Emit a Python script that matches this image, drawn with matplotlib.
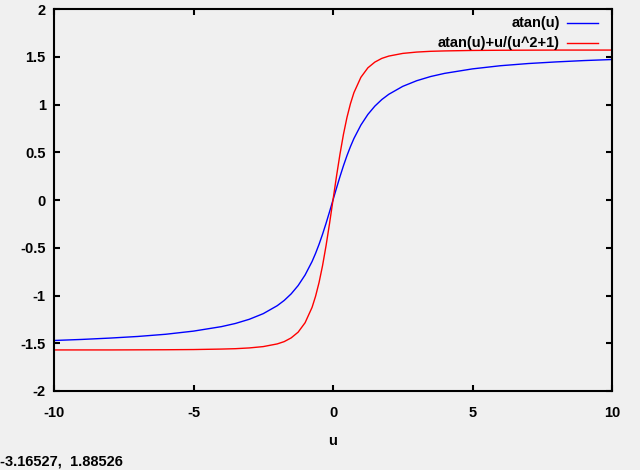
import matplotlib
matplotlib.use("Agg")
import matplotlib.pyplot as plt

# values
u = [-10, -9, -8, -7, -6, -5, -4, -3.5, -3, -2.5, -2, -1.75, -1.5, -1.25, -1,
     -0.75, -0.625, -0.5, -0.375, -0.25, -0.125, 0,
     0.125, 0.25, 0.375, 0.5, 0.625, 0.75, 1, 1.25, 1.5, 1.75, 2, 2.5, 3,
     3.5, 4, 5, 6, 7, 8, 9, 10]
atan_u = [-1.471, -1.460, -1.446, -1.429, -1.406, -1.373, -1.326, -1.293,
          -1.249, -1.190, -1.107, -1.052, -0.983, -0.896, -0.785,
          -0.644, -0.559, -0.464, -0.359, -0.245, -0.124, 0.0,
          0.124, 0.245, 0.359, 0.464, 0.559, 0.644, 0.785, 0.896, 0.983,
          1.052, 1.107, 1.190, 1.249, 1.293, 1.326, 1.373, 1.406, 1.429,
          1.446, 1.460, 1.471]
atan_plus = [-1.570, -1.570, -1.570, -1.569, -1.568, -1.566, -1.561, -1.557,
             -1.549, -1.535, -1.507, -1.483, -1.444, -1.384, -1.285,
             -1.124, -1.008, -0.864, -0.688, -0.480, -0.248, 0.0,
             0.248, 0.480, 0.688, 0.864, 1.008, 1.124, 1.285, 1.384, 1.444,
             1.483, 1.507, 1.535, 1.549, 1.557, 1.561, 1.566, 1.568, 1.569,
             1.570, 1.570, 1.570]
labels = ["atan(u)", "atan(u)+u/(u^2+1)"]
colors = ["#0000ff", "#ff0000"]

plt.rcParams['font.family'] = ['Liberation Sans', 'DejaVu Sans']
plt.rcParams['font.weight'] = 'bold'
plt.rcParams['axes.labelweight'] = 'bold'
plt.rcParams['axes.unicode_minus'] = False
plt.rcParams['font.size'] = 10.5

bg = "#f0f0f0"
fig = plt.figure(figsize=(6.4, 4.7), dpi=100, facecolor=bg)
ax = fig.add_axes([54/640, 1-391/470, (612-54)/640, (391-9)/470])
ax.set_facecolor(bg)

ax.plot(u, atan_u, color=colors[0], lw=1)
ax.plot(u, atan_plus, color=colors[1], lw=1)

ax.set_xlim(-10, 10)
ax.set_ylim(-2, 2)
ax.set_xticks([-10, -5, 0, 5, 10])
ax.set_yticks([-2, -1.5, -1, -0.5, 0, 0.5, 1, 1.5, 2])
ax.set_yticklabels(["-2", "-1.5", "-1", "-0.5", "0", "0.5", "1", "1.5", "2"])
ax.tick_params(direction='in', top=True, right=True, length=4, width=1.5)
ax.tick_params(axis='x', pad=11)
ax.tick_params(axis='y', pad=6)
for s in ax.spines.values():
    s.set_linewidth(1.5)
ax.set_xlabel("u", labelpad=10)

# gnuplot style key, top right
rows = [23, 43]
for lab, c, yy in zip(labels, colors, rows):
    fy = 1 - (yy - 9) / (391 - 9)
    ax.text((560 - 54) / (612 - 54), fy, lab, transform=ax.transAxes,
            ha='right', va='center')
    ax.plot([(567 - 54) / (612 - 54), (598 - 54) / (612 - 54)], [fy, fy],
            transform=ax.transAxes, color=c, lw=1, clip_on=False)

fig.text(0.0, 1 - 462/470, "-3.16527,  1.88526", ha='left', va='center')

fig.savefig("out.png", dpi=100, facecolor=bg)
